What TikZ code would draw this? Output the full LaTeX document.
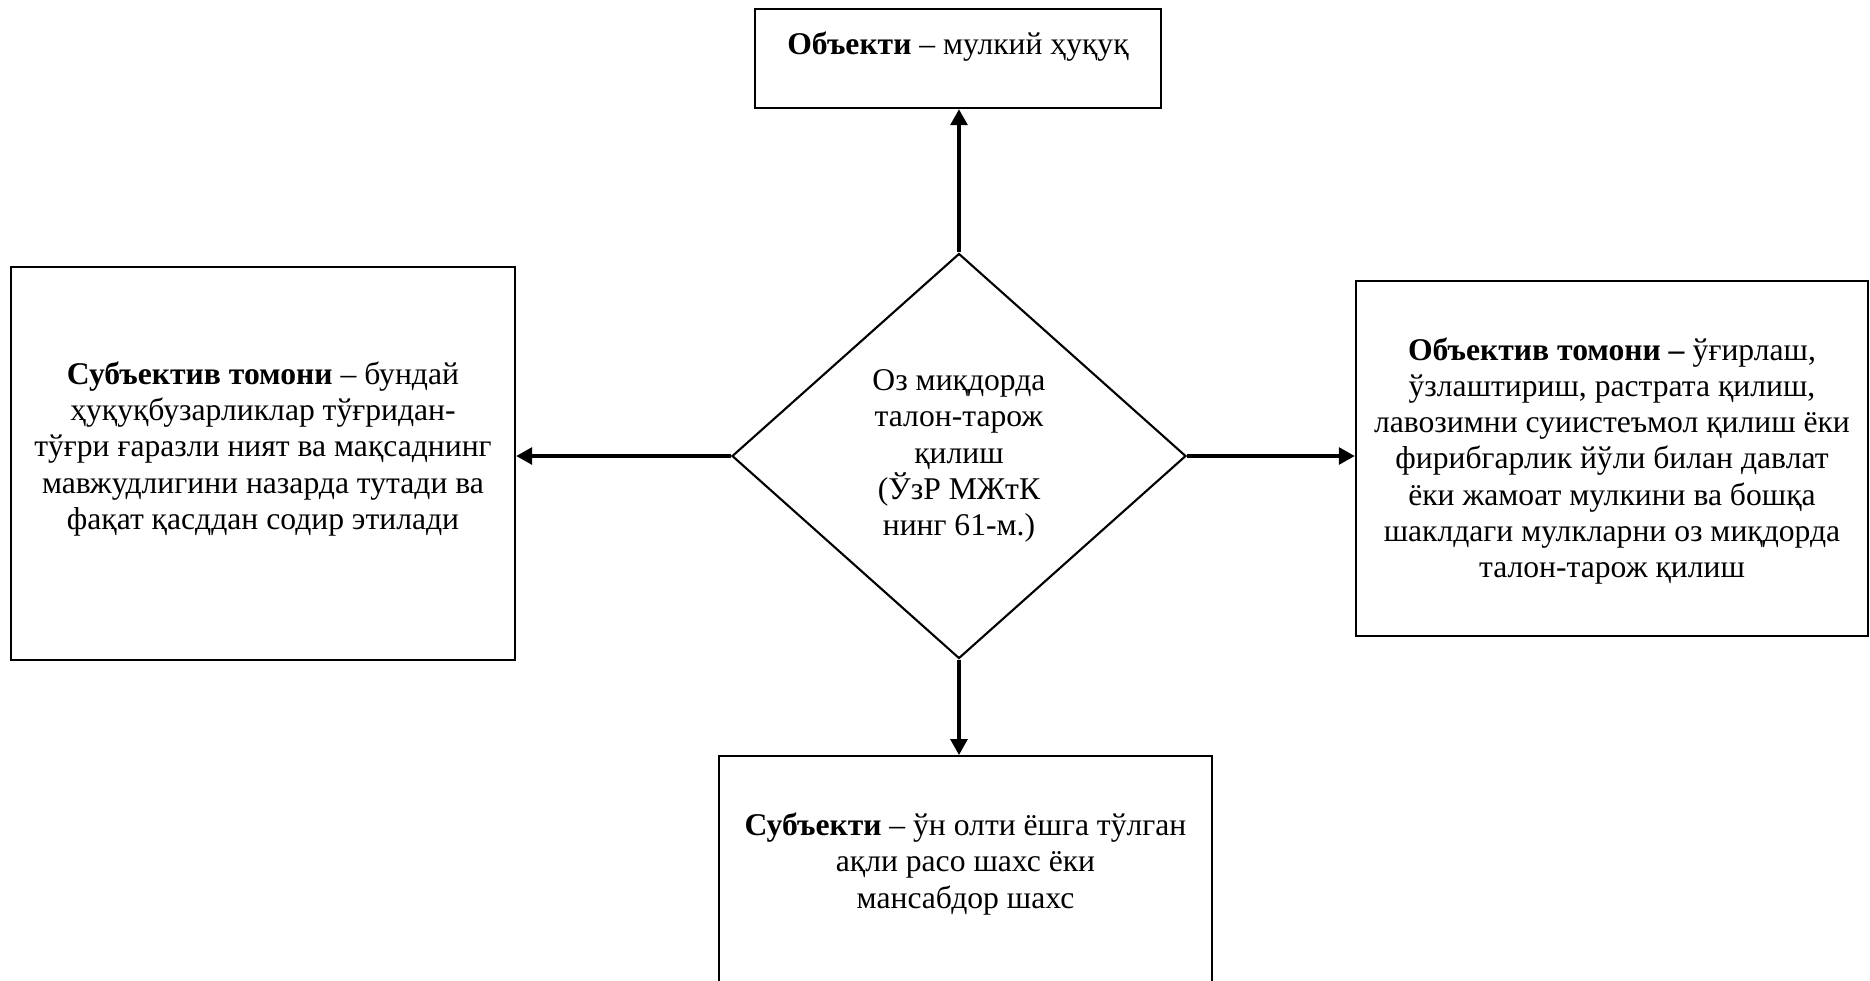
\documentclass[tikz,border=0pt]{standalone}
\usepackage{fontspec}
\setmainfont{Liberation Serif}
\usetikzlibrary{arrows.meta, positioning, shapes.geometric}
\tikzset{
  every picture/.style={font=\fontsize{9}{10.3}\selectfont},
  box/.style={draw=black, line width=0.7pt, align=center, inner sep=0pt},
  boxtext/.style={align=center, inner sep=0pt},
  rhomb/.style={draw=black, shape=diamond, line width=0.6pt, align=center, inner sep=0pt, minimum width=4.54cm, minimum height=4.05cm},
  arrow/.style={-{Triangle[length=1.6mm, width=1.7mm]}, draw=black, line width=0.9pt},
}

\begin{document}
\begin{tikzpicture}
  \useasboundingbox (-9.59,-5.24) rectangle (9.11,4.56);
  % centre: the offence itself
  \node[rhomb] (crime) at (0,0) {Оз миқдорда\\талон-тарож\\қилиш\\(ЎзР МЖтК\\нинг 61-м.)};
  % top: object
  \node[box, minimum width=4.06cm, minimum height=0.99cm] (object) at (-0.01,3.975) {};
  \node[boxtext] (objtext) at (-0.01,4.09) {\textbf{Объекти} – мулкий ҳуқуқ};
  % left: subjective side
  \node[box, minimum width=5.04cm, minimum height=3.93cm] (subjside) at (-6.96,-0.075) {};
  \node[boxtext] (subjtext) at (-6.96,0.07) {\textbf{Субъектив томони} – бундай\\ҳуқуқбузарликлар тўғридан-\\тўғри ғаразли ният ва мақсаднинг\\мавжудлигини назарда тутади ва\\фақат қасддан содир этилади};
  % right: objective side
  \node[box, minimum width=5.12cm, minimum height=3.55cm] (objside) at (6.53,-0.025) {};
  \node[boxtext] (objsidetext) at (6.53,-0.05) {\textbf{Объектив томони –} ўғирлаш,\\ўзлаштириш, растрата қилиш,\\лавозимни суиистеъмол қилиш ёки\\фирибгарлик йўли билан давлат\\ёки жамоат мулкини ва бошқа\\шаклдаги мулкларни оз миқдорда\\талон-тарож қилиш};
  % bottom: subject (box runs off the page)
  \node[box, minimum width=4.93cm, minimum height=2.45cm, anchor=north] (subject) at (0.065,-2.99) {};
  \node[boxtext] (subjecttext) at (0.065,-4.08) {\textbf{Субъекти} – ўн олти ёшга тўлган\\ақли расо шахс ёки\\мансабдор шахс};
  % connectors
  \draw[arrow] (crime.north) -- (crime.north |- object.south);
  \draw[arrow] (crime.west) -- (crime.west -| subjside.east);
  \draw[arrow] (crime.east) -- (crime.east -| objside.west);
  \draw[arrow] (crime.south) -- (crime.south |- subject.north);
\end{tikzpicture}
\end{document}
